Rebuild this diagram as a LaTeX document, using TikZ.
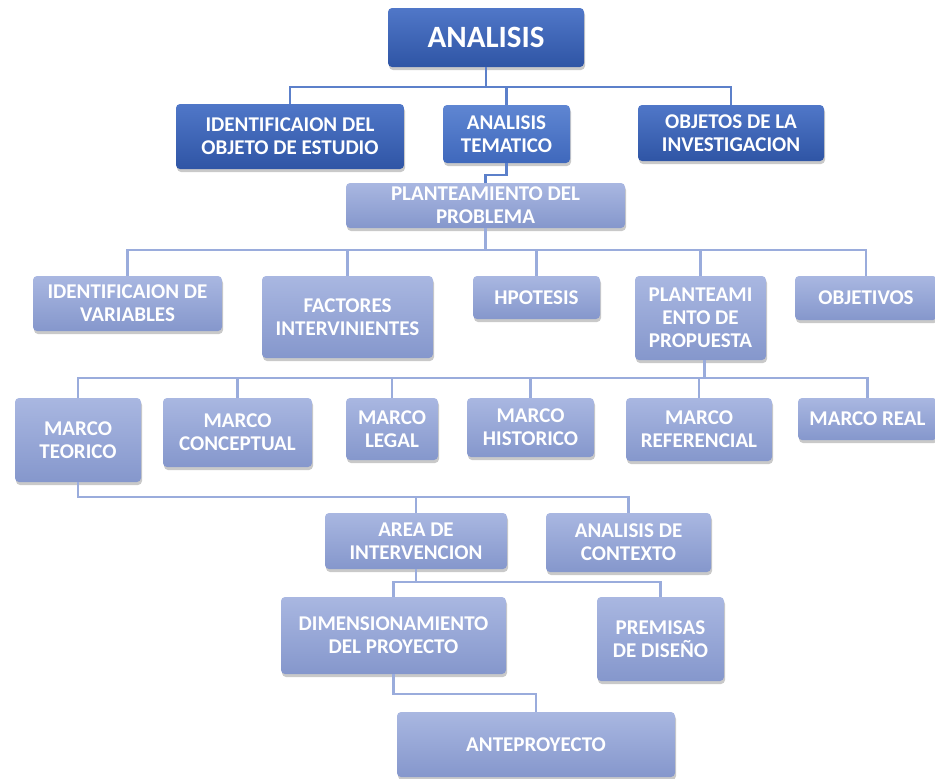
\documentclass[tikz,border=0pt]{standalone}
\usepackage{fontspec}
\setmainfont{Carlito}
\usetikzlibrary{shadows}
\definecolor{darkT}{HTML}{5077C8}
\definecolor{darkB}{HTML}{2F55A5}
\definecolor{midT}{HTML}{5F86D2}
\definecolor{midB}{HTML}{3F68BC}
\definecolor{lightT}{HTML}{A9B7E1}
\definecolor{lightB}{HTML}{8597CC}
\definecolor{lineDark}{HTML}{5C80CA}
\definecolor{lineLight}{HTML}{9AACDC}
\tikzset{
  boxbase/.style={rounded corners=4pt, inner sep=0pt, align=center, text=white,
    font=\bfseries\fontsize{21}{23}\selectfont,
    drop shadow={shadow xshift=1pt, shadow yshift=-3pt, opacity=0.3, fill=black!70}},
  darkbox/.style={boxbase, top color=darkT, bottom color=darkB},
  midbox/.style={boxbase, top color=midT, bottom color=midB},
  lightbox/.style={boxbase, top color=lightT, bottom color=lightB},
  sz/.style 2 args={minimum width=#1pt, minimum height=#2pt},
  darkline/.style={draw=lineDark, line width=2.4pt},
  lightline/.style={draw=lineLight, line width=2.4pt},
}
\begin{document}
\begin{tikzpicture}[x=1pt,y=-1pt]
\useasboundingbox (0,0) rectangle (935,779);
% nodes
\node[darkbox, sz={196}{59}, font=\bfseries\fontsize{31}{33}\selectfont] (ana) at (486,37.5) {ANALISIS};
\node[darkbox, sz={228}{65}] (idobj) at (290,136.5) {IDENTIFICAION DEL\\OBJETO DE ESTUDIO};
\node[midbox, sz={127}{58}] (atem) at (506.5,134) {ANALISIS\\TEMATICO};
\node[darkbox, sz={186}{56}] (obj) at (731,133) {OBJETOS DE LA\\INVESTIGACION};
\node[lightbox, sz={279}{45}] (plan) at (485.5,205.5) {PLANTEAMIENTO DEL\\PROBLEMA};
\node[lightbox, sz={189}{55}] (idv) at (127.5,303.5) {IDENTIFICAION DE\\VARIABLES};
\node[lightbox, sz={171}{82}] (fact) at (347.5,317) {FACTORES\\INTERVINIENTES};
\node[lightbox, sz={127}{43}] (hpo) at (536.5,297.5) {HPOTESIS};
\node[lightbox, sz={131}{84}] (prop) at (700.5,318) {PLANTEAMI\\ENTO DE\\PROPUESTA};
\node[lightbox, sz={142}{44}] (objv) at (866,298) {OBJETIVOS};
\node[lightbox, sz={126}{84}] (mt) at (78,440) {MARCO\\TEORICO};
\node[lightbox, sz={149}{69}] (mc) at (237.5,432.5) {MARCO\\CONCEPTUAL};
\node[lightbox, sz={92}{62}] (ml) at (392,429) {MARCO\\LEGAL};
\node[lightbox, sz={127}{59}] (mh) at (530.5,427.5) {MARCO\\HISTORICO};
\node[lightbox, sz={146}{63}] (mr) at (699,429.5) {MARCO\\REFERENCIAL};
\node[lightbox, sz={139}{42}] (mreal) at (867.5,419) {MARCO REAL};
\node[lightbox, sz={182}{56}] (area) at (416,541) {AREA DE\\INTERVENCION};
\node[lightbox, sz={165}{59}] (acon) at (628.5,542.5) {ANALISIS DE\\CONTEXTO};
\node[lightbox, sz={225}{77}] (dim) at (393.5,635.5) {DIMENSIONAMIENTO\\DEL PROYECTO};
\node[lightbox, sz={127}{84}] (prem) at (660.5,639) {PREMISAS\\DE DISEÑO};
\node[lightbox, sz={278}{65}] (ante) at (536,744.5) {ANTEPROYECTO};
% connectors
\draw[darkline] (ana.south) -- ++(0,20) -| (idobj.north);
\draw[darkline] (ana.south) -- ++(0,20) -| (atem.north);
\draw[darkline] (ana.south) -- ++(0,20) -| (obj.north);
\draw[darkline] (atem.south) -- ++(0,12) -| (plan.north);
\foreach \n in {idv,fact,hpo,prop,objv}
  \draw[lightline] (plan.south) -- ++(0,22) -| (\n.north);
\foreach \n in {mt,mc,ml,mh,mr,mreal}
  \draw[lightline] ([xshift=4pt]prop.south) -- ++(0,18) -| (\n.north);
\foreach \n in {area,acon}
  \draw[lightline] (mt.south) -- ++(0,15) -| (\n.north);
\foreach \n in {dim,prem}
  \draw[lightline] (area.south) -- ++(0,13) -| (\n.north);
\draw[lightline] (dim.south) -- ++(0,20) -| (ante.north);
\end{tikzpicture}
\end{document}
